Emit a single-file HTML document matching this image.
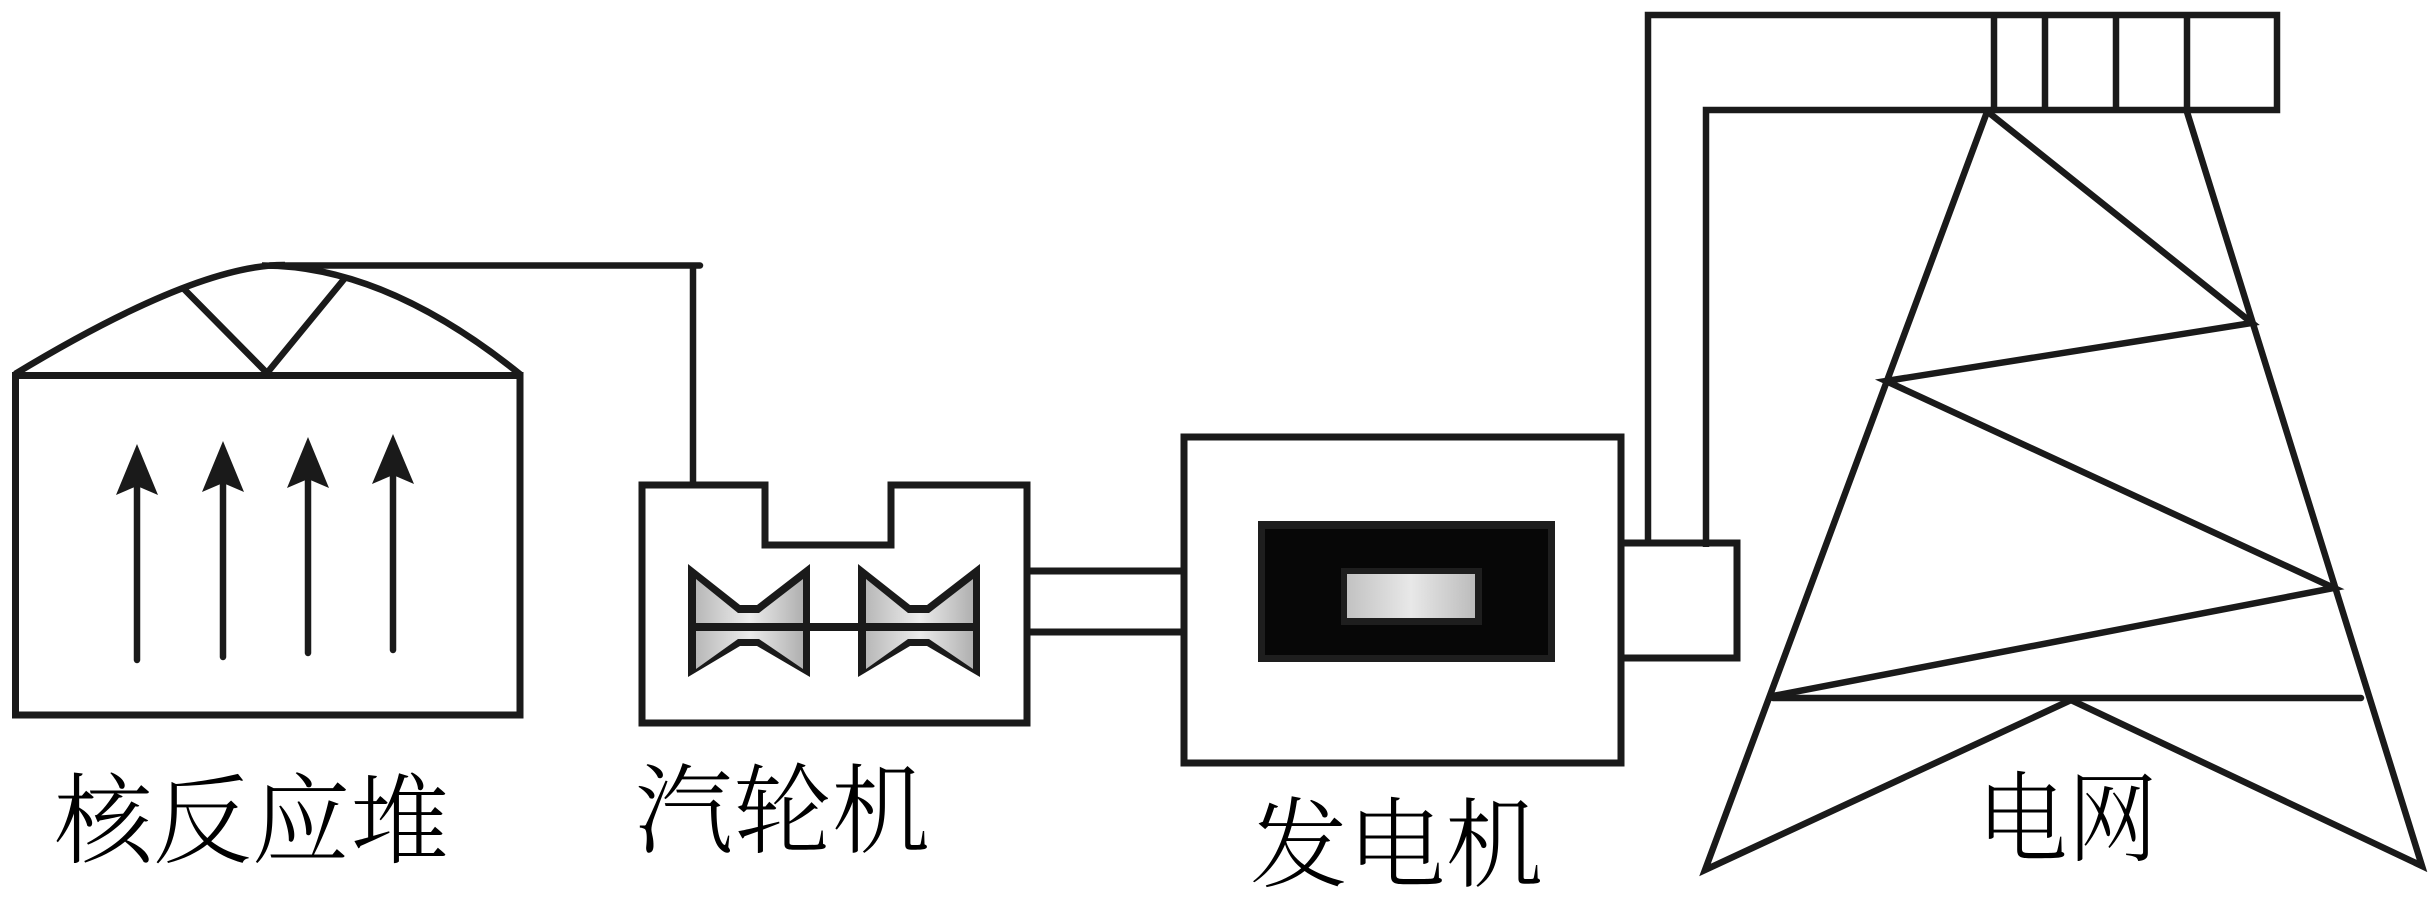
<!DOCTYPE html>
<html>
<head>
<meta charset="utf-8">
<style>
  html,body{margin:0;padding:0;background:#fff;}
  svg{display:block;}
  .lbl{font-family:"Liberation Serif","Noto Serif CJK SC","Noto Serif CJK TC",serif;font-size:98px;font-weight:300;fill:#000;}
</style>
</head>
<body>
<svg width="2436" height="899" viewBox="0 0 2436 899" xmlns="http://www.w3.org/2000/svg">
  <defs>
    <linearGradient id="tg" x1="0" y1="0" x2="1" y2="0">
      <stop offset="0" stop-color="#b8b8b8"/>
      <stop offset="0.5" stop-color="#ececec"/>
      <stop offset="1" stop-color="#b0b0b0"/>
    </linearGradient>
    <linearGradient id="gg" x1="0" y1="0" x2="1" y2="0">
      <stop offset="0" stop-color="#c2c2c2"/>
      <stop offset="0.5" stop-color="#e8e8e8"/>
      <stop offset="1" stop-color="#bcbcbc"/>
    </linearGradient>
  </defs>

  <g fill="none" stroke="#1a1a1a" stroke-width="7">
    <!-- Reactor box -->
    <rect x="15.5" y="375.5" width="504.5" height="339.5"/>
    <!-- Dome -->
    <path d="M15,374 Q197,264 285,265" stroke-width="6.5"/>
    <path d="M262,265.5 Q385,265 521,375" stroke-width="6.5"/>
    <!-- V inside dome -->
    <path d="M182,287 L267,373 L345,278" stroke-width="6.5" stroke-linejoin="miter"/>
    <!-- Steam pipe -->
    <path d="M270,265.5 H700" stroke-width="6.5" stroke-linecap="round"/>
    <path d="M693,263 V485" stroke-width="6.5"/>

    <!-- Turbine outer box with notch -->
    <path d="M642,485 H765 V545 H891 V485 H1027 V723 H642 Z"/>

    <!-- Turbine-generator connectors -->
    <path d="M1027,571 H1184"/>
    <path d="M1027,632 H1184"/>

    <!-- Generator box -->
    <rect x="1184" y="437" width="437" height="326"/>
    <!-- Small box right of generator -->
    <path d="M1621,543 H1737 V658 H1621"/>
  </g>

  <!-- Arrows in reactor -->
  <g stroke="#1a1a1a" stroke-width="6.5" stroke-linecap="round">
    <line x1="137" y1="480" x2="137" y2="660"/>
    <line x1="223" y1="476" x2="223" y2="657"/>
    <line x1="308" y1="473" x2="308" y2="653"/>
    <line x1="393" y1="470" x2="393" y2="650"/>
  </g>
  <g fill="#1a1a1a">
    <polygon points="137,444 158,495 137,486 116,495"/>
    <polygon points="223,441 244,492 223,483 202,492"/>
    <polygon points="308,437 329,488 308,479 287,488"/>
    <polygon points="393,434 414,484 393,475 372,484"/>
  </g>

  <!-- Turbine blades -->
  <g>
    <polygon fill="#1a1a1a" points="688,564 740,605 757,605 810,564 810,677 757,646 740,646 688,677"/>
    <polygon fill="url(#tg)" points="696,579 738,613 759,613 803,579 803,623 696,623"/>
    <polygon fill="url(#tg)" points="696,631 803,631 803,669 759,639 738,639 696,669"/>
  </g>
  <g transform="translate(170,0)">
    <polygon fill="#1a1a1a" points="688,564 740,605 757,605 810,564 810,677 757,646 740,646 688,677"/>
    <polygon fill="url(#tg)" points="696,579 738,613 759,613 803,579 803,623 696,623"/>
    <polygon fill="url(#tg)" points="696,631 803,631 803,669 759,639 738,639 696,669"/>
  </g>
  <!-- shaft between turbines -->
  <rect x="808" y="623" width="52" height="8" fill="#1a1a1a"/>

  <!-- Generator core -->
  <rect x="1258" y="521" width="297" height="141" fill="#1e1e1e"/>
  <rect x="1265" y="529" width="283" height="126" fill="#070707"/>
  <rect x="1341" y="568" width="141" height="57" fill="#1e1e1e"/>
  <rect x="1347" y="574" width="128" height="44" fill="url(#gg)"/>

  <!-- Pipe to tower -->
  <g fill="none" stroke="#1a1a1a" stroke-width="6.5" stroke-linejoin="miter">
    <path d="M1648,543 V15 H2277 V110 H1706 V547"/>
    <line x1="1994" y1="15" x2="1994" y2="110"/>
    <line x1="2045" y1="15" x2="2045" y2="110"/>
    <line x1="2116" y1="15" x2="2116" y2="110"/>
    <line x1="2187" y1="15" x2="2187" y2="110"/>
  </g>

  <!-- Tower -->
  <g fill="none" stroke="#1a1a1a" stroke-width="6.5" stroke-linejoin="miter" stroke-miterlimit="6">
    <polyline points="1987,112 1705,870 2071,700 2422,866 2187,112"/>
    <polyline points="1988,112 2252,323 1886,381 2334,588 1773,696"/>
    <line x1="1773" y1="698" x2="2361" y2="698" stroke-linecap="round"/>
  </g>

  <!-- Labels -->
  <text class="lbl" x="54" y="855" textLength="395" lengthAdjust="spacingAndGlyphs">核反应堆</text>
  <text class="lbl" x="635" y="845" textLength="295" lengthAdjust="spacingAndGlyphs">汽轮机</text>
  <text class="lbl" x="1250" y="879" textLength="293" lengthAdjust="spacingAndGlyphs">发电机</text>
  <text class="lbl" x="1977" y="853" textLength="181" lengthAdjust="spacingAndGlyphs">电网</text>
</svg>
</body>
</html>
